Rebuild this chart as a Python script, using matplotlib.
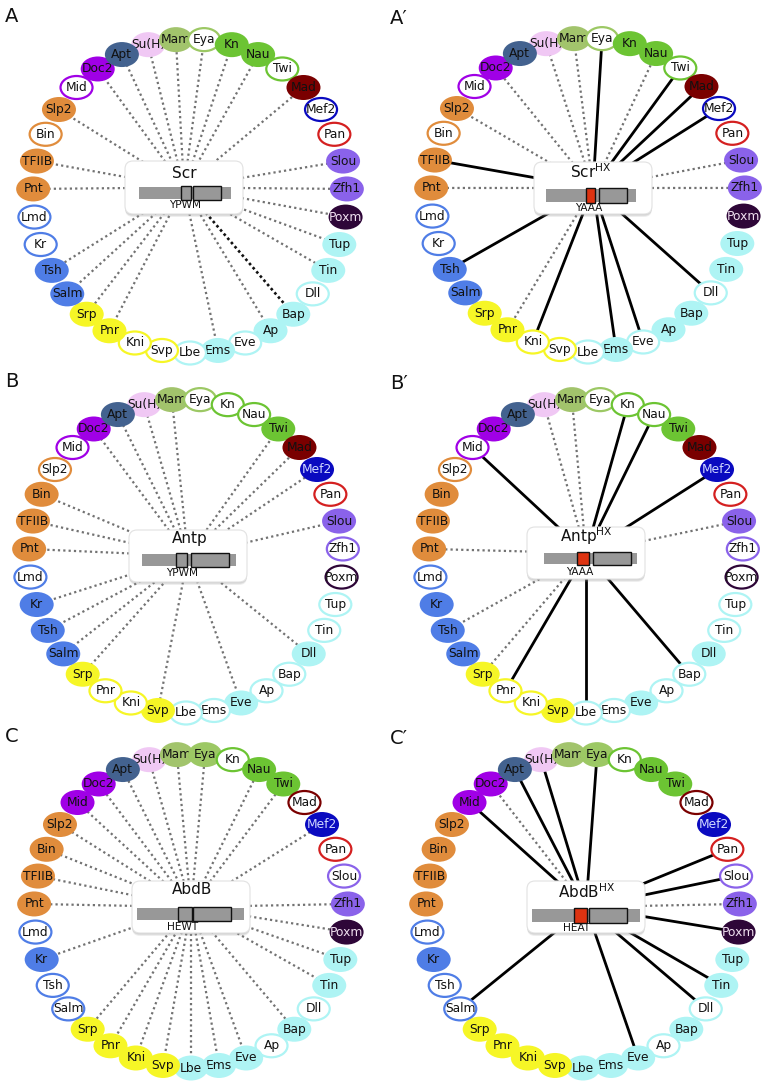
import numpy as np
import matplotlib
matplotlib.use("Agg")
import matplotlib.pyplot as plt
from matplotlib.patches import Ellipse, FancyBboxPatch, Rectangle

plt.rcParams['font.family'] = ['DejaVu Sans']

# ---------------- data ----------------
node_order = ["Mam", "Eya", "Kn", "Nau", "Twi", "Mad", "Mef2", "Pan", "Slou", "Zfh1",
              "Poxm", "Tup", "Tin", "Dll", "Bap", "Ap", "Eve", "Ems", "Lbe", "Svp",
              "Kni", "Pnr", "Srp", "Salm", "Tsh", "Kr", "Lmd", "Pnt", "TFIIB", "Bin",
              "Slp2", "Mid", "Doc2", "Apt", "Su(H)"]

node_color = {
    "Mam": "#a2c46c", "Eya": "#9cc864", "Kn": "#6cc433", "Nau": "#6cc433", "Twi": "#6cc433",
    "Mad": "#7a0000", "Mef2": "#0a0ac0", "Pan": "#d42020", "Slou": "#8a62ea", "Zfh1": "#8a62ea",
    "Poxm": "#2e0638", "Tup": "#aef4f4", "Tin": "#aef4f4", "Dll": "#aef4f4", "Bap": "#aef4f4",
    "Ap": "#aef4f4", "Eve": "#aef4f4", "Ems": "#aef4f4", "Lbe": "#aef4f4", "Svp": "#f6f626",
    "Kni": "#f6f626", "Pnr": "#f6f626", "Srp": "#f6f626", "Salm": "#4f7de6", "Tsh": "#4f7de6",
    "Kr": "#4f7de6", "Lmd": "#4f7de6", "Pnt": "#e08c3c", "TFIIB": "#e08c3c", "Bin": "#e08c3c",
    "Slp2": "#e08c3c", "Mid": "#a000e6", "Doc2": "#a000e6", "Apt": "#43628f", "Su(H)": "#f0c8f4",
}
light_text = {"Mef2": "#d0d8ff", "Poxm": "#f0e0f0"}

hollow_scr = ["Eya", "Twi", "Mef2", "Pan", "Dll", "Eve", "Lbe", "Svp", "Kni", "Kr", "Lmd", "Bin", "Mid"]
hollow_antp = ["Eya", "Kn", "Nau", "Pan", "Zfh1", "Poxm", "Tup", "Tin", "Bap", "Ap", "Ems", "Lbe",
               "Kni", "Pnr", "Lmd", "Slp2", "Mid"]
hollow_abdb = ["Kn", "Mad", "Pan", "Slou", "Dll", "Ap", "Lmd", "Tsh", "Salm"]

panel_labels = ["A", "A\u2032", "B", "B\u2032", "C", "C\u2032"]
panel_titles = ["Scr", r"Scr$^{\mathrm{HX}}$", "Antp", r"Antp$^{\mathrm{HX}}$", "AbdB", r"AbdB$^{\mathrm{HX}}$"]
motif_labels = ["YPWM", "YAAA", "YPWM", "YAAA", "HEWT", "HEAT"]

dotted_A = ["Slp2", "Doc2", "Apt", "Su(H)", "Mam", "Eya", "Kn", "Nau", "Mad", "TFIIB", "Pnt",
            "Slou", "Zfh1", "Poxm", "Tup", "Tin", "Ap", "Ems", "Pnr", "Srp", "Salm", "Tsh"]
darkdotted_A = ["Bap"]
solid_A = []

dotted_Ap = ["Su(H)", "Mam", "Doc2", "Nau", "Slp2", "Pnt", "Slou", "Zfh1", "Pnr"]
darkdotted_Ap = []
solid_Ap = ["Eya", "Twi", "Mad", "Mef2", "TFIIB", "Tsh", "Kni", "Ems", "Eve", "Dll"]

dotted_B = ["Doc2", "Apt", "Su(H)", "Mam", "Twi", "Mad", "Mef2", "Bin", "TFIIB", "Pnt", "Slou",
            "Kr", "Tsh", "Salm", "Srp", "Svp", "Eve", "Dll"]
darkdotted_B = []
solid_B = []

dotted_Bp = ["Su(H)", "Mam", "Pnt", "Slou", "Tsh", "Srp"]
darkdotted_Bp = []
solid_Bp = ["Mid", "Kn", "Nau", "Mef2", "Pnr", "Lbe", "Bap"]

dotted_C = ["Slp2", "Mid", "Doc2", "Apt", "Su(H)", "Mam", "Eya", "Nau", "Twi", "Mef2", "Bin",
            "TFIIB", "Pnt", "Zfh1", "Poxm", "Tup", "Tin", "Bap", "Eve", "Ems", "Lbe", "Svp",
            "Kni", "Pnr", "Srp", "Kr"]
darkdotted_C = []
solid_C = []

dotted_Cp = ["Doc2", "Zfh1"]
darkdotted_Cp = []
solid_Cp = ["Mid", "Apt", "Su(H)", "Eya", "Pan", "Slou", "Poxm", "Tin", "Dll", "Eve", "Salm"]

panel_hollow = [hollow_scr, hollow_scr, hollow_antp, hollow_antp, hollow_abdb, hollow_abdb]
panel_dotted = [dotted_A, dotted_Ap, dotted_B, dotted_Bp, dotted_C, dotted_Cp]
panel_dark = [darkdotted_A, darkdotted_Ap, darkdotted_B, darkdotted_Bp, darkdotted_C, darkdotted_Cp]
panel_solid = [solid_A, solid_Ap, solid_B, solid_Bp, solid_C, solid_Cp]
mutant = [False, True, False, True, False, True]

# ---------------- layout (pixels) ----------------
label_pos = [(5, 7), (390, 9), (5, 372), (390, 374), (5, 727), (390, 729)]
ring_center = [(190, 196), (588, 195), (186, 556), (586, 556), (191, 911), (583, 911)]
ring_radius = 157
# box: x0, y0, w, h
box_geom = [(125, 161, 118, 53), (534, 162, 118, 52), (129, 530, 118, 52),
            (527, 527, 118, 52), (132, 881, 118, 52), (527, 881, 118, 52)]
title_pos = [(184, 173), (591, 172), (190, 539), (586, 536), (192, 890), (587, 892)]
# bar: x0, x1, y0, y1 ; domain1 x0,x1 ; domain2 x0,x1
bar_geom = [(139, 231, 187, 199), (546, 636, 189, 202), (142, 236, 554, 566),
            (544, 637, 553, 564), (137, 244, 908, 920), (532, 640, 909, 922)]
dom1_geom = [(181, 191), (586, 595), (176, 187), (577, 589), (178, 192), (574, 587)]
dom2_geom = [(193, 221), (599, 627), (191, 229), (593, 631), (193, 231), (589, 627)]
motif_pos = [(185, 205), (589, 208), (182, 573), (580, 572), (183, 927), (577, 928)]

node_w, node_h = 34, 25

fig = plt.figure(figsize=(7.64, 10.82), dpi=100)
ax = fig.add_axes([0, 0, 1, 1])
ax.set_xlim(0, 764)
ax.set_ylim(1082, 0)
ax.axis('off')

n = len(node_order)
step = 360.0 / n

for p in range(6):
    cx, cy = ring_center[p]
    pos = {}
    for i, name in enumerate(node_order):
        th = np.deg2rad((i - 0.5) * step)
        pos[name] = (cx + ring_radius * np.sin(th), cy - ring_radius * np.cos(th))

    bx, by, bw, bh = box_geom[p]
    hub = (bx + bw / 2, by + bh / 2)

    # edges
    for name in panel_dotted[p]:
        x, y = pos[name]
        ax.plot([hub[0], x], [hub[1], y], color="#727272", lw=1.6,
                linestyle=(0, (1, 1.4)), zorder=1)
    for name in panel_dark[p]:
        x, y = pos[name]
        ax.plot([hub[0], x], [hub[1], y], color="#111111", lw=1.9,
                linestyle=(0, (1, 1.1)), zorder=1)
    for name in panel_solid[p]:
        x, y = pos[name]
        ax.plot([hub[0], x], [hub[1], y], color="black", lw=2.0, zorder=1)

    # central box with soft shadow
    for dy, a in [(3.0, 0.16), (2.0, 0.20), (1.0, 0.24)]:
        ax.add_patch(FancyBboxPatch((bx, by + dy), bw, bh,
                                    boxstyle="round,pad=0,rounding_size=8",
                                    fc="#9a9a9a", ec="none", alpha=a, zorder=2))
    ax.add_patch(FancyBboxPatch((bx, by), bw, bh, boxstyle="round,pad=0,rounding_size=8",
                                fc="white", ec="#e2e2e2", lw=0.8, zorder=3))
    tx, ty = title_pos[p]
    ax.text(tx, ty, panel_titles[p], ha="center", va="center", fontsize=11, zorder=5,
            color="#111111")
    x0, x1, y0, y1 = bar_geom[p]
    ax.add_patch(Rectangle((x0, y0), x1 - x0, y1 - y0, fc="#989898", ec="none", zorder=4))
    d0, d1 = dom1_geom[p]
    ax.add_patch(Rectangle((d0, y0 - 1), d1 - d0, y1 - y0 + 2,
                           fc="#dd3311" if mutant[p] else "#989898",
                           ec="#111111", lw=1.0, zorder=5))
    e0, e1 = dom2_geom[p]
    ax.add_patch(Rectangle((e0, y0 - 1), e1 - e0, y1 - y0 + 2, fc="#989898",
                           ec="#111111", lw=1.0, zorder=5))
    mx, my = motif_pos[p]
    ax.text(mx, my, motif_labels[p], ha="center", va="center", fontsize=7.6,
            color="#111111", zorder=5)

    # nodes
    draw_order = node_order[-1:] + node_order[:-1]
    for j, name in enumerate(draw_order):
        x, y = pos[name]
        col = node_color[name]
        z = 6 + j * 0.01
        if name in panel_hollow[p]:
            ax.add_patch(Ellipse((x, y), node_w - 2, node_h - 2, fc="white", ec=col,
                                 lw=1.6, zorder=z))
            tc = "#111111"
        else:
            ax.add_patch(Ellipse((x, y), node_w, node_h, fc=col, ec="none", zorder=z))
            tc = light_text.get(name, "#111111")
        ax.text(x, y, name, ha="center", va="center", fontsize=8.8, color=tc, zorder=z + 0.005)

    lx, ly = label_pos[p]
    ax.text(lx, ly, panel_labels[p], ha="left", va="top", fontsize=14, color="#111111")

fig.savefig("out.png", dpi=100)
